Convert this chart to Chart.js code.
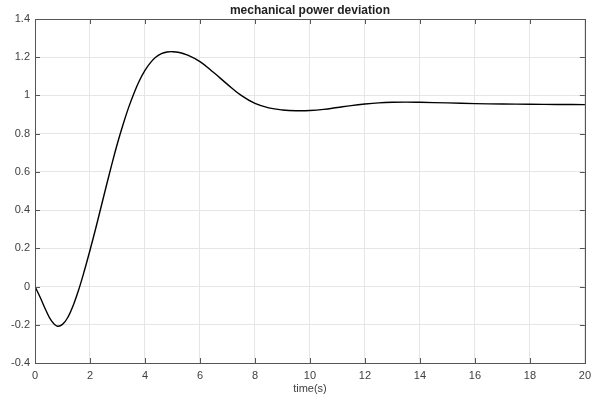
<!DOCTYPE html>
<html>
<head>
<meta charset="utf-8">
<script src="https://cdn.jsdelivr.net/npm/chart.js@4.4.1/dist/chart.umd.min.js"></script>
<style>
  html, body { margin: 0; padding: 0; background: #fff; }
  #wrap { width: 597px; height: 405px; }
</style>
</head>
<body>
<div id="wrap"><canvas id="powerChart"></canvas></div>
<script>
// time (s) and mechanical power deviation
const timeValues = [0, 0.2, 0.4, 0.6, 0.8, 1.0, 1.2, 1.4, 1.6, 1.8, 2.0, 2.2, 2.4, 2.6, 2.8, 3.0,
    3.2, 3.4, 3.6, 3.8, 4.0, 4.2, 4.4, 4.6, 4.8, 5.0, 5.25, 5.5, 6.0, 6.5, 7.0, 7.5,
    8.0, 8.5, 9.0, 9.5, 10.0, 10.5, 11.0, 11.5, 12.0, 12.5, 13.0, 13.5, 14.0, 15.0, 16.0,
    17.0, 18.0, 19.0, 20.0];
const powerValues = [0, -0.06, -0.125, -0.18, -0.207, -0.198, -0.16, -0.095, -0.012, 0.085, 0.19, 0.3,
    0.415, 0.53, 0.643, 0.75, 0.847, 0.935, 1.012, 1.078, 1.131, 1.172, 1.201, 1.219, 1.227, 1.229,
    1.225, 1.214, 1.177, 1.12, 1.058, 1.0, 0.958, 0.935, 0.924, 0.92, 0.921, 0.927,
    0.937, 0.947, 0.955, 0.961, 0.964, 0.965, 0.964, 0.961, 0.957, 0.955, 0.954, 0.953, 0.952];

const xTicks = [0, 2, 4, 6, 8, 10, 12, 14, 16, 18, 20];
const yTicks = [-0.4, -0.2, 0, 0.2, 0.4, 0.6, 0.8, 1, 1.2, 1.4];
const yTickLabels = ['-0.4', '-0.2', '0', '0.2', '0.4', '0.6', '0.8', '1', '1.2', '1.4'];
const chartTitle = 'mechanical power deviation';

const points = timeValues.map((t, i) => ({x: t, y: powerValues[i]}));

// box round the axes, MATLAB style inward ticks, and the title centred over the axes
const boxTicks = {
    id: 'boxTicks',
    afterDraw(chart) {
        const ctx = chart.ctx;
        const a = chart.chartArea;
        const xs = chart.scales.x;
        const ys = chart.scales.y;
        const len = 5;
        ctx.save();
        ctx.strokeStyle = '#555';
        ctx.lineWidth = 1;
        ctx.beginPath();
        xTicks.forEach(v => {
            const px = Math.round(xs.getPixelForValue(v)) + 0.5;
            ctx.moveTo(px, a.bottom); ctx.lineTo(px, a.bottom - len);
            ctx.moveTo(px, a.top); ctx.lineTo(px, a.top + len);
        });
        yTicks.forEach(v => {
            const py = Math.round(ys.getPixelForValue(v)) + 0.5;
            ctx.moveTo(a.left, py); ctx.lineTo(a.left + len, py);
            ctx.moveTo(a.right, py); ctx.lineTo(a.right - len, py);
        });
        ctx.stroke();
        ctx.strokeRect(Math.round(a.left) + 0.5, Math.round(a.top) + 0.5,
            Math.round(a.right - a.left), Math.round(a.bottom - a.top));

        ctx.fillStyle = '#222';
        ctx.font = 'bold 12px "Liberation Sans", Arial, sans-serif';
        ctx.textAlign = 'center';
        ctx.textBaseline = 'middle';
        ctx.fillText(chartTitle, (a.left + a.right) / 2, 10.5);
        ctx.restore();
    }
};

const tickFont = {family: '"Liberation Sans", Arial, sans-serif', size: 11};

new Chart(document.getElementById('powerChart'), {
    type: 'line',
    data: {
        datasets: [{
            data: points,
            borderColor: '#000',
            borderWidth: 1.4,
            pointRadius: 0,
            fill: false,
            tension: 0.4
        }]
    },
    options: {
        responsive: true,
        maintainAspectRatio: false,
        animation: false,
        layout: {padding: {left: 0, right: 6, top: 19, bottom: 0}},
        plugins: {
            legend: {display: false},
            tooltip: {enabled: false},
            title: {display: false}
        },
        scales: {
            x: {
                type: 'linear',
                min: 0,
                max: 20,
                afterFit: s => { s.height = 42; },
                afterBuildTicks: s => { s.ticks = xTicks.map(v => ({value: v})); },
                grid: {color: '#e6e6e6', drawTicks: false},
                border: {display: false},
                ticks: {color: '#404040', font: tickFont, padding: 6, maxRotation: 0},
                title: {
                    display: true,
                    text: 'time(s)',
                    color: '#404040',
                    font: tickFont,
                    padding: {top: 0, bottom: 9}
                }
            },
            y: {
                min: -0.4,
                max: 1.4,
                afterFit: s => { s.width = 35; },
                afterBuildTicks: s => { s.ticks = yTicks.map(v => ({value: v})); },
                grid: {color: '#e6e6e6', drawTicks: false},
                border: {display: false},
                ticks: {
                    color: '#404040',
                    font: tickFont,
                    padding: 5,
                    callback: (v) => {
                        const i = yTicks.findIndex(t => Math.abs(t - v) < 1e-6);
                        return i >= 0 ? yTickLabels[i] : '';
                    }
                }
            }
        }
    },
    plugins: [boxTicks]
});
</script>
</body>
</html>
